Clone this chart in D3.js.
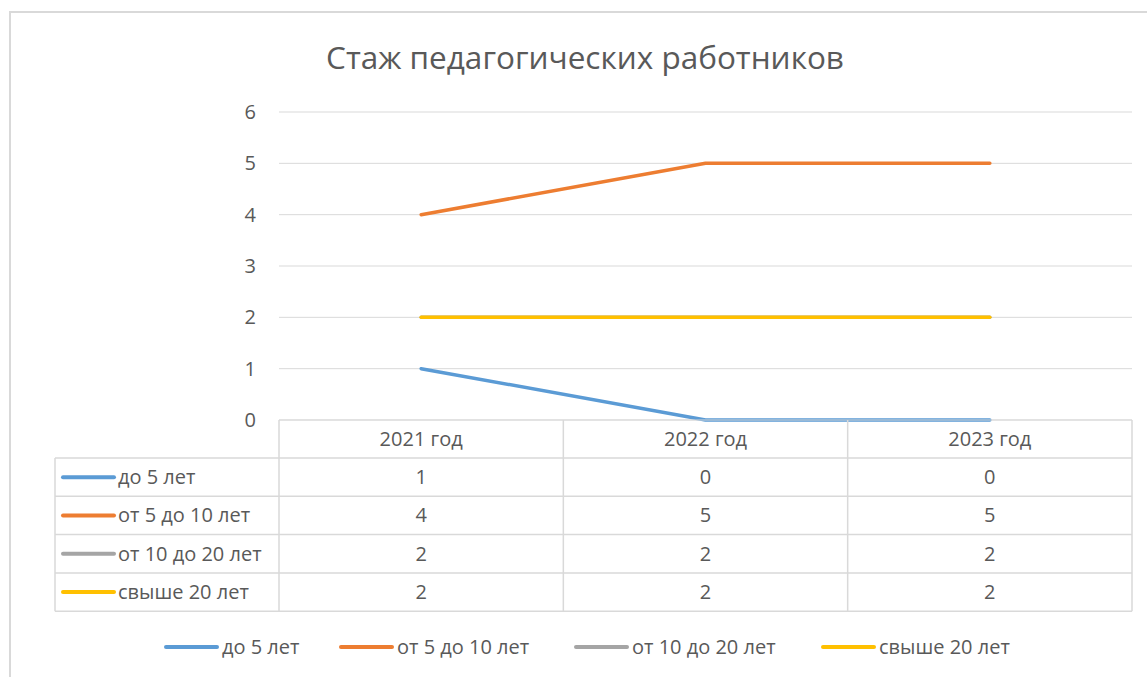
<!DOCTYPE html>
<html>
<head>
<meta charset="utf-8">
<script src="https://cdn.jsdelivr.net/npm/d3@7"></script>
<style>
  body { margin: 0; background: #fff; }
  text { font-family: "Open Sans", "Noto Sans", sans-serif; fill: #595959; }
</style>
</head>
<body>
<div id="chart"></div>
<script>
var categories = ["2021 год", "2022 год", "2023 год"];
var seriesNames = ["до 5 лет", "от 5 до 10 лет", "от 10 до 20 лет", "свыше 20 лет"];
var seriesColors = ["#5B9BD5", "#ED7D31", "#A5A5A5", "#FFC000"];
var valuesDo5 = [1, 0, 0];
var values5to10 = [4, 5, 5];
var values10to20 = [2, 2, 2];
var valuesOver20 = [2, 2, 2];
var yTicks = [0, 1, 2, 3, 4, 5, 6];
var title = "Стаж педагогических работников";

var width = 1147, height = 677;
var plot = {left: 279, right: 1132, top: 112, bottom: 420};
var tableLeft = 55, headerH = 38, rowH = 38.3;
var fs = "20px";

var series = seriesNames.map(function(name, i) {
  return {name: name, color: seriesColors[i],
          values: [valuesDo5, values5to10, values10to20, valuesOver20][i]};
});

var svg = d3.select("#chart").append("svg")
    .attr("width", width)
    .attr("height", height);

// chart area border
svg.append("rect")
    .attr("x", 10).attr("y", 12)
    .attr("width", width + 20).attr("height", height + 20)
    .attr("fill", "#fff")
    .attr("stroke", "#d9d9d9")
    .attr("stroke-width", 2);

svg.append("text")
    .attr("x", 585).attr("y", 69)
    .attr("text-anchor", "middle")
    .style("font-size", "31.5px")
    .text(title);

var x = d3.scaleBand().domain(categories).range([plot.left, plot.right]).padding(0);
var y = d3.scaleLinear().domain([0, 6]).range([plot.bottom, plot.top]);

// gridlines
svg.append("g").selectAll("line")
    .data(yTicks)
  .enter().append("line")
    .attr("x1", plot.left).attr("x2", plot.right)
    .attr("y1", function(d) { return y(d); })
    .attr("y2", function(d) { return y(d); })
    .attr("stroke", "#d9d9d9")
    .attr("stroke-width", 1);

// y axis labels
var yAxis = d3.axisLeft(y).tickValues(yTicks).tickFormat(d3.format("d")).tickSize(0).tickPadding(0);
var yg = svg.append("g")
    .attr("transform", "translate(256,0)")
    .call(yAxis);
yg.select(".domain").remove();
yg.selectAll("text")
    .style("font-size", fs)
    .style("font-family", "'Open Sans', sans-serif")
    .attr("fill", "#595959");

// lines
var line = d3.line()
    .x(function(d, i) { return x(categories[i]) + x.bandwidth() / 2; })
    .y(function(d) { return y(d); });

svg.append("g").selectAll("path")
    .data(series)
  .enter().append("path")
    .attr("d", function(d) { return line(d.values); })
    .attr("fill", "none")
    .attr("stroke", function(d) { return d.color; })
    .attr("stroke-width", 3.5)
    .attr("stroke-linecap", "round")
    .attr("stroke-linejoin", "round");

// data table
var tbl = svg.append("g");
var tableBottom = plot.bottom + headerH + rowH * series.length;
var gridColor = "#d9d9d9";

// horizontal lines
tbl.append("line")
    .attr("x1", plot.left).attr("x2", plot.right)
    .attr("y1", plot.bottom).attr("y2", plot.bottom)
    .attr("stroke", gridColor);
d3.range(series.length + 1).forEach(function(i) {
  var yy = plot.bottom + headerH + rowH * i;
  tbl.append("line")
      .attr("x1", tableLeft).attr("x2", plot.right)
      .attr("y1", yy).attr("y2", yy)
      .attr("stroke", gridColor).attr("stroke-width", 1.5);
});
// vertical lines
tbl.append("line")
    .attr("x1", tableLeft).attr("x2", tableLeft)
    .attr("y1", plot.bottom + headerH).attr("y2", tableBottom)
    .attr("stroke", gridColor).attr("stroke-width", 1.5);
categories.forEach(function(c, i) {
  tbl.append("line")
      .attr("x1", x(c)).attr("x2", x(c))
      .attr("y1", plot.bottom).attr("y2", tableBottom)
      .attr("stroke", gridColor).attr("stroke-width", 1.5);
});
tbl.append("line")
    .attr("x1", plot.right).attr("x2", plot.right)
    .attr("y1", plot.bottom).attr("y2", tableBottom)
    .attr("stroke", gridColor).attr("stroke-width", 1.5);

// header
tbl.selectAll(".hdr")
    .data(categories)
  .enter().append("text")
    .attr("class", "hdr")
    .attr("x", function(d) { return x(d) + x.bandwidth() / 2; })
    .attr("y", plot.bottom + headerH / 2)
    .attr("dy", "0.35em")
    .attr("text-anchor", "middle")
    .style("font-size", fs)
    .text(function(d) { return d; });

// rows
series.forEach(function(s, r) {
  var cy = plot.bottom + headerH + rowH * r + rowH / 2;
  tbl.append("line")
      .attr("x1", 63).attr("x2", 114)
      .attr("y1", cy).attr("y2", cy)
      .attr("stroke", s.color).attr("stroke-width", 4)
      .attr("stroke-linecap", "round");
  tbl.append("text")
      .attr("x", 118).attr("y", cy)
      .attr("dy", "0.35em")
      .style("font-size", fs)
      .text(s.name);
  s.values.forEach(function(v, i) {
    tbl.append("text")
        .attr("x", x(categories[i]) + x.bandwidth() / 2)
        .attr("y", cy)
        .attr("dy", "0.35em")
        .attr("text-anchor", "middle")
        .style("font-size", fs)
        .text(v);
  });
});

// legend
var legendX = [166, 341, 576, 823];
var lg = svg.append("g");
series.forEach(function(s, i) {
  lg.append("line")
      .attr("x1", legendX[i]).attr("x2", legendX[i] + 51)
      .attr("y1", 647).attr("y2", 647)
      .attr("stroke", s.color).attr("stroke-width", 4)
      .attr("stroke-linecap", "round");
  lg.append("text")
      .attr("x", legendX[i] + 56).attr("y", 647)
      .attr("dy", "0.35em")
      .style("font-size", fs)
      .text(s.name);
});
</script>
</body>
</html>
